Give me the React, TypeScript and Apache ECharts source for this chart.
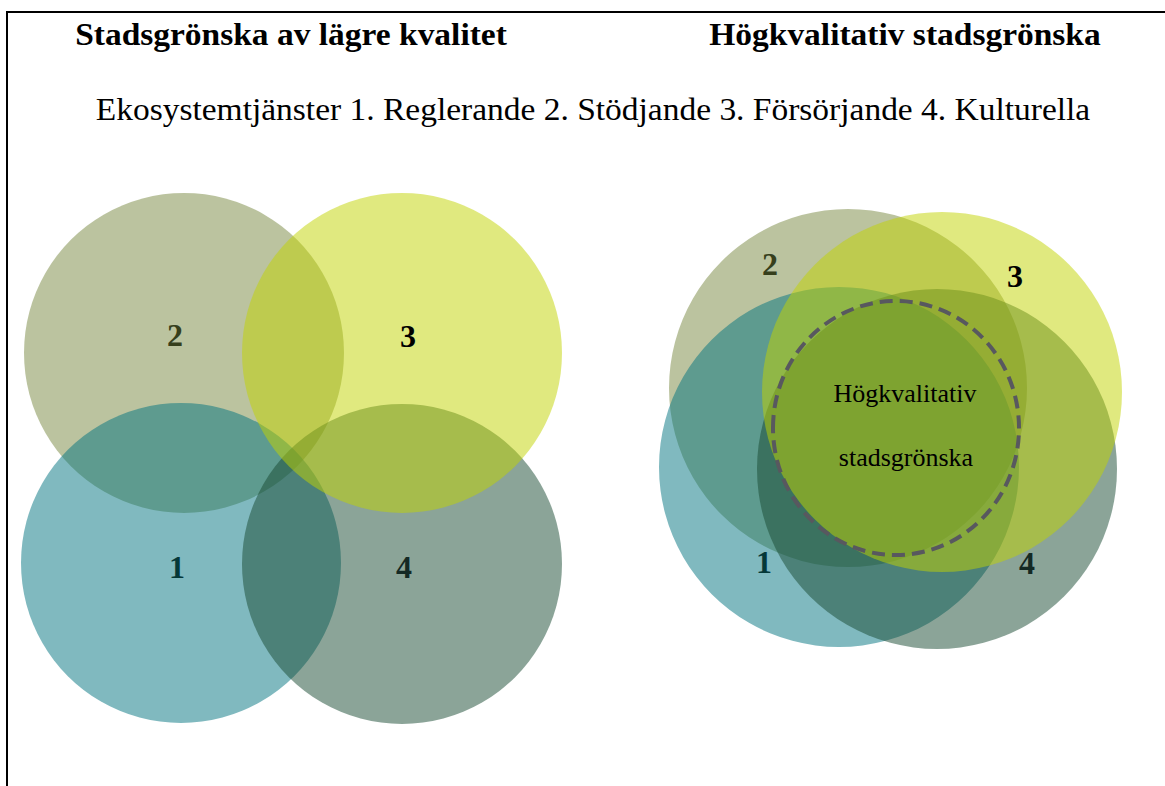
import React, { useEffect, useRef } from "react";
import * as echarts from "echarts";

// Ecosystem services, in drawing order (back to front)
const services = ["2", "1", "4", "3"];
const serviceColors = [
  "rgba(120,135,63,0.5)",
  "rgba(1,115,127,0.5)",
  "rgba(23,73,49,0.5)",
  "rgba(193,211,0,0.5)",
];
const labelColors = ["#363f1c", "#053838", "#142924", "#000000"];

// Left diagram: lower quality urban green (centre x, centre y, radius)
const leftCircles = [
  [184, 353, 160],
  [181, 563, 160],
  [402, 564, 160],
  [402, 353, 160],
];
const leftLabels = [
  [175, 335],
  [177, 567],
  [404, 567],
  [408, 336],
];

// Right diagram: high quality urban green
const rightCircles = [
  [848, 388, 179],
  [839, 467, 180],
  [937, 469, 180],
  [942, 392, 180],
];
const rightLabels = [
  [770, 264],
  [764, 562],
  [1027, 563],
  [1015, 276],
];

// Dashed core circle (centre x, centre y, radius x, radius y)
const coreCircle = [[896, 428, 123, 127]];
const coreText = [
  ["Högkvalitativ", 905, 393],
  ["stadsgrönska", 906, 457],
];

const titleLeft = "Stadsgrönska av lägre kvalitet";
const titleRight = "Högkvalitativ stadsgrönska";
const subtitle =
  "Ekosystemtjänster 1. Reglerande 2. Stödjande 3. Försörjande 4. Kulturella";

const SERIF = '"Liberation Serif", "Times New Roman", serif';

export default function App() {
  const ref = useRef<HTMLDivElement>(null);

  useEffect(() => {
    if (!ref.current) return;
    const chart = echarts.init(ref.current, undefined, { renderer: "svg" });

    const circleData = (arr: number[][]) =>
      arr.map((c, i) => ({ value: [c[0], c[1], c[2], i] }));

    const circleSeries = (name: string, arr: number[][]) => ({
      type: "custom",
      name,
      coordinateSystem: "cartesian2d",
      silent: true,
      renderItem: (params: any, api: any) => {
        const p = api.coord([api.value(0), api.value(1)]);
        const r = api.size([api.value(2), 0])[0];
        const idx = api.value(3);
        return {
          type: "circle",
          shape: { cx: p[0], cy: p[1], r },
          style: { fill: serviceColors[idx] },
        };
      },
      data: circleData(arr),
      z: 2,
    });

    const labelSeries = (name: string, arr: number[][]) => ({
      type: "scatter",
      name,
      symbolSize: 0,
      silent: true,
      z: 5,
      itemStyle: { opacity: 1 },
      data: arr.map((p, i) => ({
        name: services[i],
        value: p,
        label: {
          show: true,
          position: "inside",
          formatter: "{b}",
          color: labelColors[i],
          opacity: 1,
          fontFamily: SERIF,
          fontWeight: "bold",
          fontSize: 32,
        },
      })),
    });

    chart.setOption({
      animation: false,
      grid: { left: 0, right: 0, top: 0, bottom: 0 },
      xAxis: { type: "value", min: 0, max: 1165, show: false },
      yAxis: { type: "value", min: 0, max: 786, inverse: true, show: false },
      graphic: [
        {
          type: "line",
          shape: { x1: 6, y1: 12, x2: 1165, y2: 12 },
          style: { stroke: "#000", lineWidth: 2 },
        },
        {
          type: "line",
          shape: { x1: 7, y1: 11, x2: 7, y2: 786 },
          style: { stroke: "#000", lineWidth: 2 },
        },
        {
          type: "text",
          x: 291,
          y: 34,
          scaleX: 1.08,
          style: {
            text: titleLeft,
            font: `bold 31px ${SERIF}`,
            fill: "#000",
            textAlign: "center",
            textVerticalAlign: "middle",
          },
        },
        {
          type: "text",
          x: 905,
          y: 34,
          scaleX: 1.08,
          style: {
            text: titleRight,
            font: `bold 31px ${SERIF}`,
            fill: "#000",
            textAlign: "center",
            textVerticalAlign: "middle",
          },
        },
        {
          type: "text",
          x: 593,
          y: 109,
          scaleX: 1.08,
          style: {
            text: subtitle,
            font: `31px ${SERIF}`,
            fill: "#000",
            textAlign: "center",
            textVerticalAlign: "middle",
          },
        },
      ],
      series: [
        circleSeries("left", leftCircles),
        circleSeries("right", rightCircles),
        {
          type: "custom",
          name: "core",
          coordinateSystem: "cartesian2d",
          silent: true,
          z: 4,
          renderItem: (params: any, api: any) => {
            const p = api.coord([api.value(0), api.value(1)]);
            const s = api.size([api.value(2), api.value(3)]);
            return {
              type: "ellipse",
              shape: { cx: p[0], cy: p[1], rx: s[0], ry: s[1] },
              style: {
                fill: "none",
                stroke: "#58585f",
                lineWidth: 4,
                lineDash: [13, 7],
              },
            };
          },
          data: coreCircle,
        },
        labelSeries("leftLabels", leftLabels),
        labelSeries("rightLabels", rightLabels),
        {
          type: "scatter",
          name: "coreText",
          symbolSize: 0,
          silent: true,
          z: 5,
          itemStyle: { opacity: 1 },
          data: coreText.map((t) => ({
            name: t[0],
            value: [t[1], t[2]],
          })),
          label: {
            show: true,
            position: "inside",
            formatter: "{b}",
            color: "#000",
            opacity: 1,
            fontFamily: SERIF,
            fontSize: 26,
          },
        },
      ],
    });

    return () => chart.dispose();
  }, []);

  return (
    <div
      ref={ref}
      style={{
        position: "fixed",
        left: 0,
        top: 0,
        width: "1165px",
        height: "786px",
        background: "#fff",
      }}
    />
  );
}
